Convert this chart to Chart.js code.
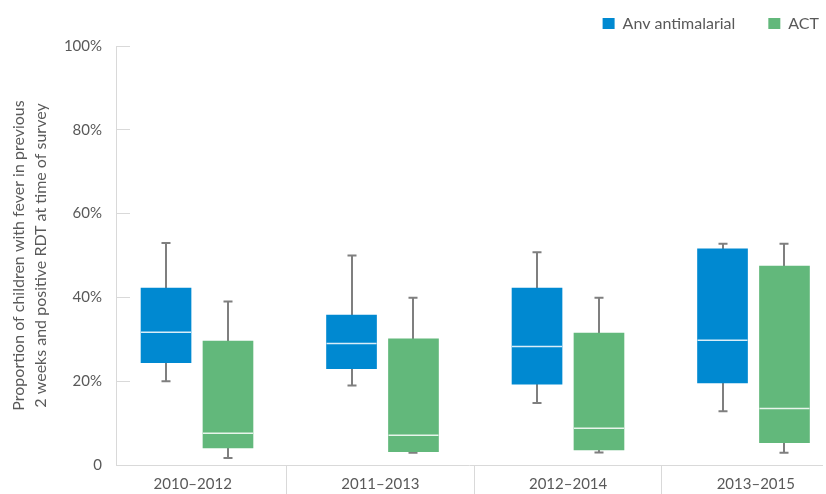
<!DOCTYPE html>
<html>
<head>
<meta charset="utf-8">
<script src="https://cdn.jsdelivr.net/npm/chart.js@4.4.0/dist/chart.umd.min.js"></script>
<style>
html,body{margin:0;padding:0;background:#ffffff;}
#wrap{width:826px;height:494px;position:relative;}
</style>
</head>
<body>
<div id="wrap"><canvas id="c"></canvas></div>
<script>
// ---- data (percent) ----
const categories = ['2010–2012', '2011–2013', '2012–2014', '2013–2015'];
const seriesNames = ['Any antimalarial', 'ACT'];
const anyMin    = [20.0, 19.0, 14.8, 12.8];
const anyQ1     = [24.4, 23.0, 19.3, 19.6];
const anyMedian = [31.7, 29.0, 28.3, 29.8];
const anyQ3     = [42.2, 35.8, 42.2, 51.6];
const anyMax    = [53.0, 50.0, 50.8, 52.8];
const actMin    = [1.7, 2.9, 3.0, 2.9];
const actQ1     = [4.1, 3.2, 3.6, 5.3];
const actMedian = [7.6, 7.1, 8.8, 13.5];
const actQ3     = [29.6, 30.1, 31.5, 47.5];
const actMax    = [39.0, 39.9, 39.9, 52.8];
const yTicks = [0, 20, 40, 60, 80, 100];

// ---- styles ----
const BLUE = '#0089d1';
const GREEN = '#62b87b';
const TEXT = '#595959';
const AXIS = '#d9d9d9';
const WHISKER = '#7f7f7f';
const FONT = 'Lato';
const PAIR_HALF = 0.167;

function boxData(q1, q3, side) {
  return q1.map((v, i) => ({ x: i + side * PAIR_HALF, y: [v, q3[i]] }));
}

const boxPlugin = {
  id: 'boxWhiskers',
  beforeInit(chart) {
    const lg = chart.legend;
    if (lg) {
      const origFit = lg.fit.bind(lg);
      lg.fit = function () { origFit(); this.height = 46; };
    }
  },
  afterLayout(chart) {
    const lg = chart.legend;
    if (lg) {
      const shift = 852 - lg.right;
      lg.left += shift; lg.right += shift;
      lg.top -= 17; lg.bottom -= 17;
    }
  },
  beforeDatasetsDraw(chart) {
    const ctx = chart.ctx, ys = chart.scales.y;
    chart.data.datasets.forEach((ds, di) => {
      const meta = chart.getDatasetMeta(di);
      meta.data.forEach((bar, i) => {
        const x = Math.round(bar.x);
        const y0 = ys.getPixelForValue(ds.whiskerMin[i]);
        const y1 = ys.getPixelForValue(ds.whiskerMax[i]);
        ctx.save();
        ctx.strokeStyle = WHISKER;
        ctx.lineWidth = 2;
        ctx.beginPath();
        ctx.moveTo(x, y0); ctx.lineTo(x, y1);
        ctx.moveTo(x - 4.5, y0); ctx.lineTo(x + 4.5, y0);
        ctx.moveTo(x - 4.5, y1); ctx.lineTo(x + 4.5, y1);
        ctx.stroke();
        ctx.restore();
      });
    });
  },
  afterDatasetsDraw(chart) {
    const ctx = chart.ctx, ys = chart.scales.y;
    chart.data.datasets.forEach((ds, di) => {
      const meta = chart.getDatasetMeta(di);
      meta.data.forEach((bar, i) => {
        const ym = ys.getPixelForValue(ds.median[i]);
        ctx.save();
        ctx.strokeStyle = 'rgba(255,255,255,0.85)';
        ctx.lineWidth = 1.5;
        ctx.beginPath();
        ctx.moveTo(bar.x - bar.width / 2, ym);
        ctx.lineTo(bar.x + bar.width / 2, ym);
        ctx.stroke();
        ctx.restore();
      });
    });
  }
};

new Chart(document.getElementById('c'), {
  type: 'bar',
  data: {
    datasets: [
      {
        label: seriesNames[0],
        data: boxData(anyQ1, anyQ3, -1),
        backgroundColor: BLUE,
        borderWidth: 0,
        xAxisID: 'xb',
        grouped: false,
        barThickness: 50,
        whiskerMin: anyMin, whiskerMax: anyMax, median: anyMedian
      },
      {
        label: seriesNames[1],
        data: boxData(actQ1, actQ3, 1),
        backgroundColor: GREEN,
        borderWidth: 0,
        xAxisID: 'xb',
        grouped: false,
        barThickness: 50,
        whiskerMin: actMin, whiskerMax: actMax, median: actMedian
      }
    ]
  },
  options: {
    responsive: true,
    maintainAspectRatio: false,
    animation: false,
    layout: { padding: { left: 0, right: 4, top: 0, bottom: 0 } },
    plugins: {
      legend: {
        position: 'top',
        align: 'end',
        labels: {
          boxWidth: 12, boxHeight: 12, padding: 33,
          color: TEXT, font: { family: FONT, size: 16 }
        }
      },
      tooltip: { enabled: false }
    },
    scales: {
      x: {
        type: 'linear',
        position: 'bottom',
        offset: false,
        min: -0.4086, max: 3.3527,
        afterBuildTicks: s => { s.ticks = [0, 0.5, 1, 1.5, 2, 2.5, 3].map(v => ({ value: v })); },
        afterFit: s => { s.height = 29; },
        grid: {
          offset: false,
          drawOnChartArea: false, drawTicks: true, tickLength: 29, lineWidth: 1,
          color: c => (c.tick && c.tick.value % 1 !== 0) ? AXIS : 'rgba(0,0,0,0)'
        },
        border: { display: true, color: AXIS, width: 1 },
        ticks: {
          autoSkip: false, maxRotation: 0, minRotation: 0, padding: -19,
          color: TEXT, font: { family: FONT, size: 15 },
          callback: v => Number.isInteger(v) ? categories[v] : ''
        }
      },
      xb: {
        type: 'linear',
        display: false,
        offset: false,
        grid: { offset: false },
        min: -0.4367, max: 3.3693
      },
      y: {
        min: 0, max: 100,
        afterBuildTicks: s => { s.ticks = yTicks.map(v => ({ value: v })); },
        afterFit: s => { s.width = 116; s.paddingTop = 9; s.paddingBottom = 9; },
        grid: { display: true, drawOnChartArea: false, drawTicks: true, tickLength: -14, color: AXIS, lineWidth: 1 },
        border: { display: true, color: AXIS, width: 1 },
        ticks: {
          padding: 28, color: TEXT, font: { family: FONT, size: 15 },
          callback: v => v === 0 ? '0' : v + '%'
        },
        title: {
          display: true,
          text: ['Proportion of children with fever in previous', '2 weeks and positive RDT at time of survey'],
          color: TEXT,
          font: { family: FONT, size: 16, lineHeight: 1.35 },
          padding: { top: 8.5, bottom: 0 }
        }
      }
    }
  },
  plugins: [boxPlugin]
});
</script>
</body>
</html>
